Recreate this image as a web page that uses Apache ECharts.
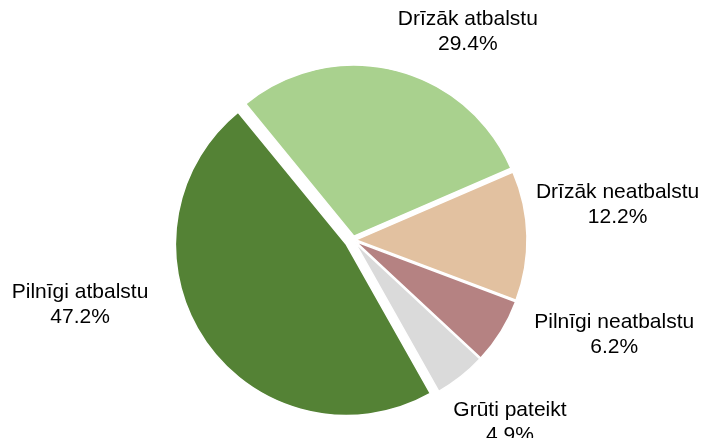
<!DOCTYPE html>
<html><head><meta charset="utf-8">
<script src="https://cdn.jsdelivr.net/npm/echarts@6/dist/echarts.min.js"></script>
<style>html,body{margin:0;padding:0;background:#fff}#c{width:717px;height:438px}</style>
</head><body><div id="c"></div>
<script>
const categories = ['Pilnīgi atbalstu', 'Drīzāk atbalstu', 'Drīzāk neatbalstu', 'Pilnīgi neatbalstu', 'Grūti pateikt'];
const values = [47.2, 29.4, 12.2, 6.2, 4.9];
const colors = ['#548235', '#A9D18E', '#E2C1A0', '#B58282', '#DADADA'];
const explode = [8, 4, 3, 3, 3];
const labelAngle = [193.4, 61.1, 7.7, -20.0, -49.3];
const labelDist = [280.6, 237.5, 267, 278, 240.7];
const CX = 353, CY = 240, R = 171;

const chart = echarts.init(document.getElementById('c'), null, {renderer: 'canvas'});
const offsets = [...new Set(explode)];
const series = offsets.map(off => ({
  type: 'pie',
  center: [CX, CY],
  radius: R,
  startAngle: 299.4,
  clockwise: true,
  selectedMode: 'multiple',
  selectedOffset: off,
  avoidLabelOverlap: false,
  silent: true,
  emphasis: {disabled: true},
  labelLine: {show: false},
  label: {show: false},
  data: categories.map((name, i) => {
    const mine = explode[i] === off;
    return {
      name: name, value: values[i], selected: true,
      itemStyle: mine ? {color: colors[i], borderColor: '#fff', borderWidth: 1.5} : {color: 'rgba(0,0,0,0)', borderWidth: 0}
    };
  })
}));
const labels = categories.map((name, i) => {
  const a = labelAngle[i] * Math.PI / 180;
  return {
    type: 'text',
    x: CX + labelDist[i] * Math.cos(a),
    y: CY - labelDist[i] * Math.sin(a),
    silent: true,
    style: {
      text: name + '\n' + values[i].toFixed(1) + '%',
      fontFamily: 'Liberation Sans, Arial, sans-serif', fontSize: 21, lineHeight: 25,
      fill: '#000', align: 'center', verticalAlign: 'middle'
    }
  };
});
chart.setOption({animation: false, backgroundColor: '#fff', series: series, graphic: labels});
</script>
</body></html>
